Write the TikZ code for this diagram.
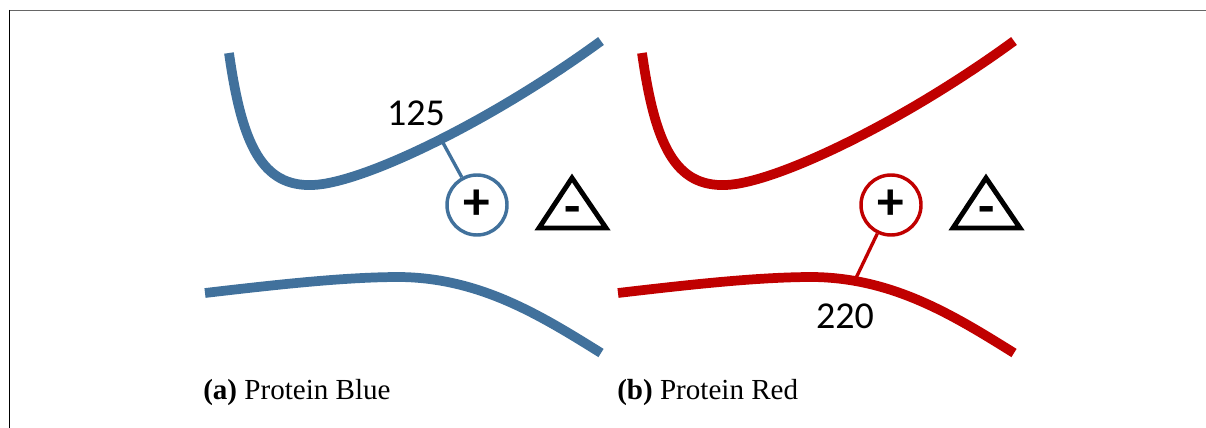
\documentclass[tikz,border=0pt]{standalone}
\usepackage{fontspec}
\setmainfont{Liberation Serif}
\newfontfamily\calfont{Carlito}
\definecolor{pblue}{HTML}{41719C}
\definecolor{pred}{HTML}{C00000}
\begin{document}
\begin{tikzpicture}[x=0.75pt,y=-0.75pt,
  strand/.style={line width=7.3pt},
  link/.style={line width=2.5pt},
  charge/.style={circle,draw,line width=2.6pt,minimum size=45pt,inner sep=0pt,font=\calfont\fontsize{40}{44}\selectfont\bfseries},
  tri/.style={line width=3.7pt,line join=miter},
  minus/.style={font=\calfont\fontsize{40}{44}\selectfont\bfseries,inner sep=0pt,anchor=base},
  num/.style={font=\calfont\fontsize{28.5}{32}\selectfont,inner sep=0pt},
  captext/.style={font=\fontsize{21.8}{24}\selectfont,inner sep=0pt,anchor=base west}]
\useasboundingbox (0,0) rectangle (1206,428);
% frame
\draw[line width=0.8pt,black!60] (9,10.5) -- (1206,10.5);
\draw[line width=0.8pt,black] (9.5,10) -- (9.5,428);
% ---- panel (a)
\draw[strand,pblue] (229,53) .. controls (242,145) and (262,187) .. (313,185)
   .. controls (363,183) and (490,122) .. (601,41);
\draw[strand,pblue] (205,293) .. controls (290,283) and (350,277) .. (400,277)
   .. controls (480,278) and (540,315) .. (601,353);
\coordinate (ba) at (442,141);
\node[charge,pblue] (bc) at (477,205) {\textcolor{black}{+}};
\draw[link,pblue] (ba) -- (bc);
\node[num] (bn) at (416,113) {125};
\draw[tri] (572,178) -- (606,228) -- (539,228) -- cycle;
\node[minus] (bm) at (573,224) {-};
\node[captext] (capa) at (203,399) {\textbf{(a)} Protein Blue};
% ---- panel (b)
\draw[strand,pred] (642,53) .. controls (655,145) and (675,187) .. (726,185)
   .. controls (776,183) and (903,122) .. (1014,41);
\draw[strand,pred] (618,293) .. controls (703,283) and (763,277) .. (813,277)
   .. controls (893,278) and (953,315) .. (1014,353);
\coordinate (ra) at (856,278);
\node[charge,pred] (rc) at (891,205) {\textcolor{black}{+}};
\draw[link,pred] (ra) -- (rc);
\node[num] (rn) at (845,316) {220};
\draw[tri] (986,178) -- (1020,228) -- (953,228) -- cycle;
\node[minus] (rm) at (987,224) {-};
\node[captext] (capb) at (617,399) {\textbf{(b)} Protein Red};
\end{tikzpicture}
\end{document}
